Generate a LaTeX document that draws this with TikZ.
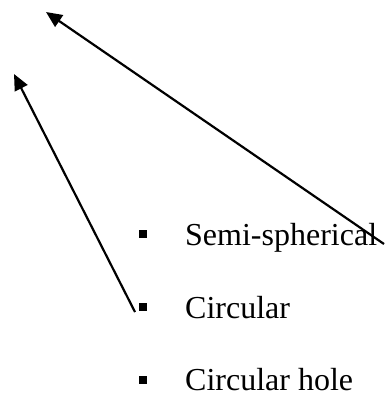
\documentclass[tikz,border=0pt]{standalone}
\usepackage{fontspec}
\setmainfont{Liberation Serif}
\usetikzlibrary{arrows.meta}
\begin{document}
\begin{tikzpicture}[x=1pt, y=-1pt,
    bulletsq/.style={fill=black, inner sep=0pt, minimum size=8pt},
    itemtext/.style={anchor=base west, inner sep=0pt, font=\fontsize{32}{38}\selectfont},
    pointer/.style={-{Triangle[length=16pt, width=14pt]}, line width=2.2pt}]
    \useasboundingbox (0,0) rectangle (386,396);

    % Bullet list
    \node[bulletsq] (b1) at (142.5, 233.5) {};
    \node[itemtext] (t1) at (185, 245) {Semi-spherical};
    \node[bulletsq] (b2) at (142.5, 307) {};
    \node[itemtext] (t2) at (185, 318) {Circular};
    \node[bulletsq] (b3) at (142.5, 380) {};
    \node[itemtext] (t3) at (185, 390.5) {Circular hole};

    % Arrow ends
    \coordinate (s1) at (384, 244);
    \coordinate (e1) at (46, 12);
    \coordinate (s2) at (135, 312);
    \coordinate (e2) at (14, 74);

    % Arrows
    \draw[pointer] (s1) -- (e1);
    \draw[pointer] (s2) -- (e2);
\end{tikzpicture}
\end{document}
